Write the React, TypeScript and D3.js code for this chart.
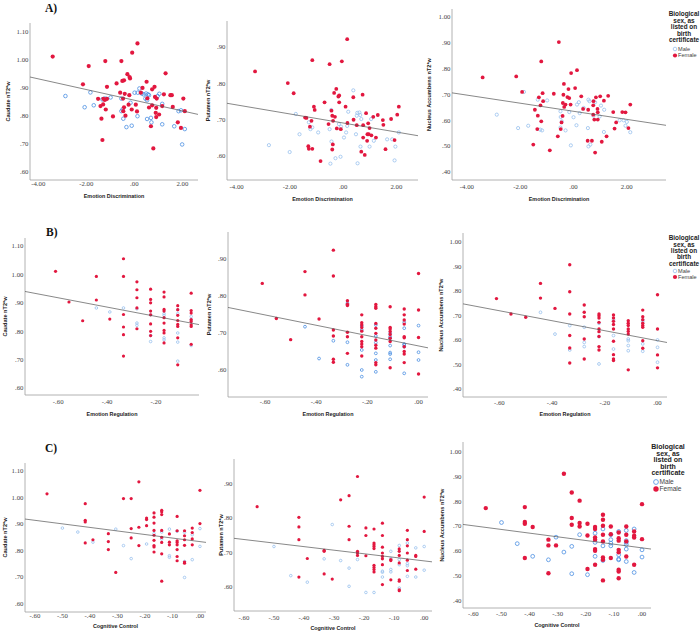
import React from 'react';
import * as d3 from 'd3';

type Pt = [number, number];

// ---------- Row A: Emotion Discrimination ----------
const A1_FEMALE: Pt[] = [[-3.4,1.012],[-1.9,.978],[-2.14,.913],[-1.21,.996],[-1.14,.904],[-.54,.996],[-.09,1.026],[.13,1.059],[-.29,.949],[-.2,.939],[-.18,.934],[-.74,.916],[-.43,.927],[-.5,.925],[.51,.922],[1.3,.952],[.84,.904],[.74,.895],[.34,.9],[-1.51,.861],[-1.41,.835],[-1.29,.861],[-1.23,.857],[-1.14,.861],[-1.19,.823],[-1.3,.841],[-1.37,.79],[-1.33,.714],[-.89,.798],[-.59,.883],[-.4,.879],[-.47,.862],[-.43,.831],[-.46,.817],[-.37,.801],[-.24,.84],[-.21,.874],[-.11,.823],[.06,.84],[.11,.816],[.27,.883],[.54,.863],[.61,.83],[.74,.838],[.86,.868],[.93,.862],[.91,.829],[.89,.811],[.91,.796],[1.03,.805],[.69,.763],[.79,.684],[1.23,.877],[1.5,.874],[1.56,.874],[1.6,.832],[1.81,.777],[1.94,.757],[2.04,.862],[2.1,.817],[1.16,.835]];
const A1_MALE: Pt[] = [[-2.87,.871],[-2.07,.831],[-1.83,.884],[-1.69,.838],[-1.33,.859],[-1.24,.862],[-1.17,.861],[-.99,.866],[-.54,.862],[-.49,.823],[-.46,.79],[-.54,.817],[-.33,.76],[-.11,.765],[-.16,.847],[.01,.883],[.14,.883],[.21,.898],[.31,.88],[.39,.877],[.49,.88],[.57,.877],[.46,.862],[.53,.856],[.61,.874],[.69,.793],[.71,.777],[.53,.789],[.13,.799],[1.04,.879],[1.16,.843],[1.16,.77],[1.66,.763],[1.84,.817],[1.94,.82],[2.1,.753],[1.99,.698],[.97,.871]];
const A2_FEMALE: Pt[] = [[-3.31,.833],[-2.08,.801],[-1.86,.773],[-1.16,.864],[-.51,.853],[-.05,.861],[.15,.922],[-.26,.785],[-.34,.774],[-.18,.764],[-.15,.767],[-.15,.748],[-.7,.748],[-1.1,.736],[-1.07,.727],[-1.43,.706],[-1.38,.705],[-1.19,.697],[-1.25,.681],[-1.31,.627],[-1.29,.62],[-1.16,.62],[-.85,.586],[-.44,.725],[-.41,.711],[-.31,.708],[-.38,.697],[-.55,.688],[.09,.736],[.16,.691],[-.24,.676],[-.09,.674],[.39,.7],[.38,.762],[.73,.769],[.86,.718],[.75,.685],[.94,.69],[.99,.677],[.91,.66],[.96,.66],[1.06,.657],[.75,.651],[.9,.642],[1.23,.651],[1.13,.708],[1.3,.713],[1.49,.699],[1.51,.686],[1.8,.702],[2.03,.714],[2.09,.736],[1.93,.644],[1.59,.619],[.68,.612],[.81,.603],[-.39,.632],[-.41,.618],[.51,.685]];
const A2_MALE: Pt[] = [[-2.79,.63],[-2.01,.611],[-1.64,.66],[-1.78,.716],[-1.29,.693],[-1.23,.674],[-1.16,.679],[-.94,.665],[-.51,.674],[-.45,.727],[-.16,.688],[-.08,.681],[.15,.683],[.19,.722],[.38,.781],[.53,.719],[.61,.72],[.64,.713],[.51,.711],[.68,.702],[.48,.66],[.11,.665],[.03,.651],[-.44,.64],[-.29,.594],[-.1,.598],[-.48,.579],[.54,.58],[.65,.626],[.99,.626],[1.15,.642],[1.05,.702],[1.65,.646],[1.84,.646],[1.96,.626],[2.09,.665],[1.93,.588]];
const A3_FEMALE: Pt[] = [[-3.41,.766],[-2.15,.77],[-1.93,.71],[-1.21,.828],[-.55,.903],[-.09,.783],[.13,.794],[-.36,.741],[-.19,.721],[.06,.725],[-.16,.686],[-.23,.69],[-.38,.699],[-.74,.703],[-1.16,.705],[-1.3,.689],[-1.14,.674],[-1.24,.658],[-1.45,.641],[-1.34,.618],[-1.21,.596],[-1.36,.566],[-1.51,.506],[-.89,.484],[-.59,.538],[-.48,.566],[-.45,.592],[-.41,.617],[-.35,.652],[-.11,.661],[-.3,.661],[-.4,.667],[.29,.693],[.36,.644],[.55,.641],[.74,.658],[.75,.674],[.84,.689],[1.0,.693],[1.14,.676],[1.3,.695],[.9,.644],[.91,.631],[.91,.603],[.74,.622],[.78,.603],[1.49,.632],[1.83,.632],[1.95,.631],[2.13,.661],[1.6,.592],[1.54,.568],[2.06,.57],[1.24,.538],[1.06,.517],[.53,.521],[.69,.521],[.81,.475]];
const A3_MALE: Pt[] = [[-2.88,.622],[-2.08,.57],[-1.7,.579],[-1.86,.71],[-1.34,.68],[-.99,.677],[-1.25,.564],[-1.18,.561],[-.49,.635],[-.48,.613],[-.44,.596],[-.49,.572],[-.3,.561],[-.16,.632],[0,.612],[.11,.581],[.2,.67],[.13,.661],[.23,.628],[.38,.648],[.56,.68],[.6,.674],[.75,.618],[.98,.615],[1.03,.657],[1.15,.641],[.54,.57],[1.14,.555],[.56,.499],[.63,.506],[-.1,.503],[1.73,.6],[1.88,.6],[2.0,.594],[1.95,.579],[2.13,.554],[.81,.67]];

// ---------- Row B: Emotion Regulation ----------
const B1_FEMALE: Pt[] = [[-.611,1.011],[-.556,.903],[-.5,.837],[-.444,.993],[-.444,.91],[-.389,.843],[-.333,1.055],[-.333,.993],[-.333,.859],[-.333,.815],[-.333,.788],[-.333,.713],[-.278,.974],[-.278,.946],[-.278,.918],[-.278,.882],[-.278,.809],[-.222,.948],[-.222,.912],[-.222,.9],[-.222,.871],[-.222,.858],[-.222,.826],[-.222,.8],[-.222,.785],[-.167,.938],[-.167,.921],[-.167,.877],[-.167,.871],[-.167,.848],[-.167,.829],[-.167,.803],[-.167,.794],[-.167,.759],[-.111,.89],[-.111,.876],[-.111,.856],[-.111,.838],[-.111,.824],[-.111,.817],[-.111,.777],[-.111,.682],[-.056,.934],[-.056,.873],[-.056,.864],[-.056,.841],[-.056,.834],[-.056,.823],[-.056,.817],[-.056,.754]];
const B1_MALE: Pt[] = [[-.444,.882],[-.389,.868],[-.333,.882],[-.278,.829],[-.278,.821],[-.278,.879],[-.222,.858],[-.222,.785],[-.222,.764],[-.167,.862],[-.167,.856],[-.167,.777],[-.167,.77],[-.111,.876],[-.111,.862],[-.111,.794],[-.111,.762],[-.111,.695],[-.056,.852],[-.056,.841],[-.056,.75]];
const B2_FEMALE: Pt[] = [[-.611,.834],[-.556,.739],[-.5,.682],[-.444,.866],[-.444,.803],[-.389,.738],[-.333,.924],[-.333,.854],[-.333,.708],[-.333,.692],[-.333,.629],[-.333,.621],[-.278,.787],[-.278,.778],[-.278,.774],[-.278,.702],[-.278,.69],[-.278,.645],[-.222,.749],[-.222,.728],[-.222,.722],[-.222,.715],[-.222,.705],[-.222,.69],[-.222,.677],[-.222,.67],[-.222,.663],[-.222,.638],[-.167,.777],[-.167,.771],[-.167,.767],[-.167,.726],[-.167,.713],[-.167,.699],[-.167,.681],[-.167,.667],[-.167,.659],[-.167,.62],[-.167,.614],[-.111,.771],[-.111,.715],[-.111,.711],[-.111,.704],[-.111,.696],[-.111,.686],[-.111,.677],[-.111,.606],[-.056,.765],[-.056,.749],[-.056,.735],[-.056,.724],[-.056,.69],[-.056,.687],[-.056,.663],[-.056,.65],[-.056,.643],[-.056,.62],[0,.861],[0,.762],[0,.688],[0,.589]];
const B2_MALE: Pt[] = [[-.444,.717],[-.389,.631],[-.333,.679],[-.278,.78],[-.278,.675],[-.278,.614],[-.222,.719],[-.222,.708],[-.222,.654],[-.222,.6],[-.222,.582],[-.167,.722],[-.167,.692],[-.167,.674],[-.167,.645],[-.167,.627],[-.167,.595],[-.111,.699],[-.111,.69],[-.111,.686],[-.111,.666],[-.111,.647],[-.111,.643],[-.111,.629],[-.056,.729],[-.056,.713],[-.056,.67],[-.056,.668],[-.056,.663],[-.056,.591],[0,.72],[0,.648],[0,.627]];
const B3_FEMALE: Pt[] = [[-.611,.769],[-.556,.706],[-.5,.693],[-.444,.831],[-.444,.771],[-.389,.729],[-.333,.907],[-.333,.797],[-.333,.706],[-.333,.618],[-.333,.567],[-.333,.506],[-.278,.743],[-.278,.713],[-.278,.695],[-.278,.604],[-.278,.522],[-.222,.706],[-.222,.699],[-.222,.69],[-.222,.672],[-.222,.645],[-.222,.634],[-.222,.614],[-.222,.573],[-.222,.559],[-.167,.702],[-.167,.69],[-.167,.676],[-.167,.663],[-.167,.645],[-.167,.595],[-.167,.54],[-.167,.522],[-.167,.516],[-.111,.679],[-.111,.668],[-.111,.659],[-.111,.645],[-.111,.635],[-.111,.624],[-.111,.478],[-.056,.722],[-.056,.695],[-.056,.683],[-.056,.668],[-.056,.659],[-.056,.652],[-.056,.597],[-.056,.566],[0,.785],[0,.645],[0,.539],[0,.486]];
const B3_MALE: Pt[] = [[-.444,.713],[-.389,.624],[-.333,.659],[-.333,.559],[-.278,.652],[-.278,.59],[-.278,.573],[-.222,.668],[-.222,.614],[-.222,.502],[-.167,.682],[-.167,.618],[-.167,.563],[-.111,.604],[-.111,.597],[-.111,.577],[-.111,.556],[-.056,.682],[-.056,.675],[-.056,.584],[-.056,.554],[0,.6],[0,.57],[0,.509]];

// ---------- Row C: Cognitive Control ----------
const C1_FEMALE: Pt[] = [[-.556,1.013],[-.417,.976],[-.417,.913],[-.417,.907],[-.417,.828],[-.389,.84],[-.333,.863],[-.333,.833],[-.333,.803],[-.306,.717],[-.278,.995],[-.25,.995],[-.25,.882],[-.25,.847],[-.222,1.058],[-.222,.887],[-.222,.818],[-.194,.922],[-.194,.916],[-.194,.893],[-.167,.941],[-.167,.925],[-.167,.903],[-.167,.875],[-.167,.857],[-.167,.838],[-.167,.818],[-.167,.813],[-.167,.794],[-.139,.951],[-.139,.945],[-.139,.935],[-.139,.875],[-.139,.849],[-.139,.83],[-.139,.787],[-.139,.684],[-.111,.862],[-.111,.831],[-.111,.821],[-.083,.928],[-.083,.874],[-.083,.836],[-.083,.83],[-.083,.821],[-.083,.803],[-.083,.777],[-.083,.761],[-.056,.874],[-.056,.855],[-.056,.84],[-.056,.819],[-.056,.756],[-.056,.752],[-.028,.884],[-.028,.867],[-.028,.843],[-.028,.821],[0,1.026],[0,.901]];
const C1_MALE: Pt[] = [[-.5,.884],[-.444,.869],[-.389,.831],[-.306,.88],[-.278,.818],[-.25,.769],[-.194,.824],[-.167,.863],[-.139,.869],[-.139,.843],[-.111,.88],[-.111,.78],[-.111,.774],[-.083,.872],[-.056,.868],[-.056,.758],[-.056,.698],[-.028,.859],[-.028,.765],[0,.882],[0,.815]];
const C2_FEMALE: Pt[] = [[-.556,.833],[-.417,.802],[-.417,.774],[-.417,.737],[-.417,.628],[-.389,.682],[-.333,.706],[-.333,.703],[-.333,.637],[-.306,.622],[-.278,.853],[-.25,.865],[-.25,.776],[-.25,.737],[-.222,.921],[-.222,.703],[-.222,.698],[-.222,.691],[-.194,.771],[-.194,.749],[-.194,.69],[-.167,.768],[-.167,.727],[-.167,.722],[-.167,.717],[-.167,.711],[-.167,.662],[-.167,.656],[-.167,.65],[-.167,.643],[-.139,.785],[-.139,.749],[-.139,.715],[-.139,.698],[-.139,.688],[-.139,.681],[-.139,.664],[-.139,.606],[-.111,.679],[-.111,.676],[-.111,.62],[-.083,.71],[-.083,.703],[-.083,.691],[-.083,.669],[-.083,.62],[-.083,.616],[-.083,.591],[-.083,.588],[-.056,.764],[-.056,.737],[-.056,.719],[-.056,.698],[-.056,.677],[-.056,.647],[-.028,.691],[-.028,.688],[-.028,.651],[0,.861],[0,.761]];
const C2_MALE: Pt[] = [[-.5,.717],[-.444,.632],[-.389,.613],[-.333,.681],[-.306,.781],[-.278,.676],[-.25,.654],[-.25,.601],[-.222,.679],[-.194,.583],[-.167,.583],[-.139,.645],[-.139,.642],[-.139,.628],[-.111,.703],[-.111,.682],[-.111,.65],[-.111,.643],[-.083,.72],[-.083,.679],[-.083,.664],[-.083,.596],[-.056,.727],[-.056,.667],[-.056,.661],[-.056,.63],[-.028,.713],[-.028,.628],[0,.717],[0,.648]];
const C3_FEMALE: Pt[] = [[-.556,.773],[-.417,.777],[-.417,.717],[-.417,.71],[-.417,.572],[-.389,.697],[-.333,.646],[-.333,.623],[-.333,.511],[-.306,.623],[-.278,.911],[-.25,.836],[-.25,.733],[-.25,.706],[-.222,.803],[-.222,.713],[-.222,.699],[-.194,.71],[-.194,.663],[-.194,.528],[-.167,.697],[-.167,.689],[-.167,.655],[-.167,.646],[-.167,.608],[-.167,.601],[-.167,.545],[-.139,.746],[-.139,.726],[-.139,.702],[-.139,.666],[-.139,.639],[-.139,.574],[-.139,.565],[-.139,.482],[-.111,.699],[-.111,.668],[-.111,.572],[-.083,.675],[-.083,.652],[-.083,.642],[-.083,.605],[-.083,.595],[-.083,.525],[-.083,.518],[-.083,.491],[-.056,.699],[-.056,.666],[-.056,.639],[-.056,.578],[-.028,.679],[-.028,.662],[-.028,.655],[-.028,.545],[0,.789],[0,.648]];
const C3_MALE: Pt[] = [[-.5,.715],[-.444,.63],[-.389,.579],[-.333,.565],[-.306,.656],[-.278,.596],[-.25,.619],[-.25,.509],[-.222,.666],[-.194,.505],[-.167,.672],[-.167,.635],[-.167,.579],[-.139,.689],[-.139,.621],[-.139,.562],[-.111,.666],[-.111,.646],[-.111,.632],[-.111,.621],[-.083,.679],[-.083,.585],[-.083,.568],[-.083,.565],[-.056,.683],[-.056,.642],[-.056,.635],[-.056,.626],[-.056,.608],[-.056,.558],[-.028,.689],[-.028,.514],[0,.605],[0,.576]];

// Fit lines: [intercept, slope]
const A1_FIT = [0.856, -0.0191];
const A2_FIT = [0.691, -0.01245];
const A3_FIT = [0.635, -0.01566];
const B1_FIT = [0.8196, -0.1636];
const B2_FIT = [0.665, -0.1397];
const B3_FIT = [0.597, -0.204];
const C1_FIT = [0.833, -0.1337];
const C2_FIT = [0.675, -0.104];
const C3_FIT = [0.613, -0.148];

// Tick values
const TICKS_ED = [-4, -2, 0, 2];
const TICKS_ER1 = [-0.6, -0.4, -0.2];
const TICKS_ER = [-0.6, -0.4, -0.2, 0];
const TICKS_CC = [-0.6, -0.5, -0.4, -0.3, -0.2, -0.1, 0];
const TICKS_CAUDATE = [1.1, 1.0, 0.9, 0.8, 0.7, 0.6];
const TICKS_PUTAMEN = [0.9, 0.8, 0.7, 0.6];
const TICKS_NACC = [1.0, 0.9, 0.8, 0.7, 0.6, 0.5, 0.4];

const Y_TITLES = ['Caudate nT2*w', 'Putamen nT2*w', 'Nucleus Accumbens nT2*w'];
const X_TITLES = ['Emotion Discrimination', 'Emotion Regulation', 'Cognitive Control'];
const ROW_LABELS = ['A)', 'B)', 'C)'];
const LEGEND_TITLE = ['Biological', 'sex, as', 'listed on', 'birth', 'certificate'];
const LEGEND_ITEMS = ['Male', 'Female'];

const RED = '#e2173f';
const BLUE_DARK = '#4b8fe2';
const BLUE_LIGHT = '#98c0ee';

interface PanelCfg {
  male: Pt[]; female: Pt[]; fit: number[];
  l: number; r: number; t: number; b: number;
  xDom: [number, number]; yDom: [number, number];
  xTicks: number[]; yTicks: number[];
  yTitle: string; xTitle: string;
  yTitleX: number; xTickY: number; xTitleY: number;
  rad: number; blue: string;
}

const PANELS: PanelCfg[] = [
  { male: A1_MALE, female: A1_FEMALE, fit: A1_FIT, l: 30, r: 198, t: 23, b: 180, xDom: [-4.345, 2.65], yDom: [0.571, 1.132], xTicks: TICKS_ED, yTicks: TICKS_CAUDATE, yTitle: Y_TITLES[0], xTitle: X_TITLES[0], yTitleX: 8, xTickY: 185.5, xTitleY: 197.5, rad: 2.1, blue: BLUE_DARK },
  { male: A2_MALE, female: A2_FEMALE, fit: A2_FIT, l: 227, r: 418, t: 21, b: 180, xDom: [-4.364, 2.81], yDom: [0.534, 0.972], xTicks: TICKS_ED, yTicks: TICKS_PUTAMEN, yTitle: Y_TITLES[1], xTitle: X_TITLES[0], yTitleX: 208, xTickY: 189, xTitleY: 201, rad: 1.9, blue: BLUE_LIGHT },
  { male: A3_MALE, female: A3_FEMALE, fit: A3_FIT, l: 452, r: 666, t: 9, b: 180, xDom: [-4.56, 3.47], yDom: [0.369, 1.031], xTicks: TICKS_ED, yTicks: TICKS_NACC, yTitle: Y_TITLES[2], xTitle: X_TITLES[0], yTitleX: 429, xTickY: 189, xTitleY: 201, rad: 1.9, blue: BLUE_LIGHT },
  { male: B1_MALE, female: B1_FEMALE, fit: B1_FIT, l: 25, r: 199, t: 238, b: 395, xDom: [-0.736, -0.024], yDom: [0.576, 1.128], xTicks: TICKS_ER1, yTicks: TICKS_CAUDATE, yTitle: Y_TITLES[0], xTitle: X_TITLES[1], yTitleX: 5, xTickY: 404, xTitleY: 415.5, rad: 1.6, blue: BLUE_LIGHT },
  { male: B2_MALE, female: B2_FEMALE, fit: B2_FIT, l: 228, r: 428, t: 232, b: 397, xDom: [-0.745, 0.037], yDom: [0.527, 0.973], xTicks: TICKS_ER, yTicks: TICKS_PUTAMEN, yTitle: Y_TITLES[1], xTitle: X_TITLES[1], yTitleX: 209, xTickY: 404, xTitleY: 416, rad: 1.7, blue: BLUE_DARK },
  { male: B3_MALE, female: B3_FEMALE, fit: B3_FIT, l: 463, r: 667, t: 233, b: 397, xDom: [-0.738, 0.036], yDom: [0.367, 1.037], xTicks: TICKS_ER, yTicks: TICKS_NACC, yTitle: Y_TITLES[2], xTitle: X_TITLES[1], yTitleX: 441, xTickY: 404.5, xTitleY: 416, rad: 1.7, blue: BLUE_LIGHT },
  { male: C1_MALE, female: C1_FEMALE, fit: C1_FIT, l: 25, r: 206, t: 463, b: 612, xDom: [-0.636, 0.022], yDom: [0.568, 1.129], xTicks: TICKS_CC, yTicks: TICKS_CAUDATE, yTitle: Y_TITLES[0], xTitle: X_TITLES[2], yTitleX: 5, xTickY: 618, xTitleY: 628, rad: 1.6, blue: BLUE_LIGHT },
  { male: C2_MALE, female: C2_FEMALE, fit: C2_FIT, l: 234, r: 432, t: 459, b: 611, xDom: [-0.633, 0.026], yDom: [0.529, 0.972], xTicks: TICKS_CC, yTicks: TICKS_PUTAMEN, yTitle: Y_TITLES[1], xTitle: X_TITLES[2], yTitleX: 221, xTickY: 619.5, xTitleY: 629.5, rad: 1.6, blue: BLUE_LIGHT },
  { male: C3_MALE, female: C3_FEMALE, fit: C3_FIT, l: 463, r: 651, t: 442, b: 608, xDom: [-0.637, 0.032], yDom: [0.371, 1.039], xTicks: TICKS_CC, yTicks: TICKS_NACC, yTitle: Y_TITLES[2], xTitle: X_TITLES[2], yTitleX: 442, xTickY: 615.5, xTitleY: 627, rad: 2.2, blue: BLUE_DARK },
];

const ROW_LABEL_POS = [[45, 11.5], [46, 235.5], [45, 451.5]];

interface LegendCfg { cx: number; y0: number; lh: number; fs: number; mx: number; tx: number; my: number[]; r: number; ifs: number; }
const LEGENDS: LegendCfg[] = [
  { cx: 684, y0: 16.3, lh: 6.4, fs: 6.4, mx: 675, tx: 678, my: [49, 55.5], r: 2.1, ifs: 5.6 },
  { cx: 684, y0: 240.3, lh: 6.3, fs: 6.4, mx: 675, tx: 678, my: [271, 277], r: 2.1, ifs: 5.6 },
  { cx: 668, y0: 449.3, lh: 6.5, fs: 7.0, mx: 656, tx: 659.5, my: [482, 489], r: 2.7, ifs: 6.6 },
];

const fmt = (v: number) => {
  const s = v.toFixed(2);
  return s.replace(/^(-?)0\./, '$1.');
};

const SERIF = '"Liberation Serif", "Times New Roman", serif';
const SANS = '"Liberation Sans", Arial, sans-serif';

function Panel({ p }: { p: PanelCfg }) {
  const x = d3.scaleLinear().domain(p.xDom).range([p.l, p.r]);
  const y = d3.scaleLinear().domain(p.yDom).range([p.b, p.t]);
  const line = d3.line<number>().x((v) => x(v)).y((v) => y(p.fit[0] + p.fit[1] * v));
  const cy = (p.t + p.b) / 2;
  const cx = (p.l + p.r) / 2;
  return (
    <g>
      <line x1={p.l} x2={p.l} y1={p.t} y2={p.b} stroke="#a0a0a0" strokeWidth={0.8} />
      <line x1={p.l} x2={p.r} y1={p.b} y2={p.b} stroke="#a0a0a0" strokeWidth={0.8} />
      {p.yTicks.map((t) => (
        <text key={'y' + t} x={p.l - 1.5} y={y(t)} dy="0.33em" textAnchor="end" fontFamily={SERIF} fontSize={6.8} fill="#444">{fmt(t)}</text>
      ))}
      {p.xTicks.map((t) => (
        <text key={'x' + t} x={x(t)} y={p.xTickY} textAnchor="middle" fontFamily={SERIF} fontSize={6.8} fill="#444">{fmt(t)}</text>
      ))}
      <text x={cx} y={p.xTitleY} textAnchor="middle" fontFamily={SANS} fontWeight="bold" fontSize={5.4} fill="#222">{p.xTitle}</text>
      <text transform={`translate(${p.yTitleX},${cy}) rotate(-90)`} textAnchor="middle" dy="0.35em" fontFamily={SANS} fontWeight="bold" fontSize={5.6} fill="#222">{p.yTitle}</text>
      {p.male.map((d, i) => (
        <circle key={'m' + i} cx={x(d[0])} cy={y(d[1])} r={p.rad - 0.3} fill="none" stroke={p.blue} strokeWidth={0.8} />
      ))}
      {p.female.map((d, i) => (
        <circle key={'f' + i} cx={x(d[0])} cy={y(d[1])} r={p.rad} fill={RED} />
      ))}
      <path d={line(p.xDom) || ''} fill="none" stroke="#555" strokeWidth={0.7} />
    </g>
  );
}

function Legend({ g, blue }: { g: LegendCfg; blue: string }) {
  return (
    <g>
      {LEGEND_TITLE.map((s, i) => (
        <text key={s} x={g.cx} y={g.y0 + i * g.lh} textAnchor="middle" fontFamily={SANS} fontWeight="bold" fontSize={g.fs} fill="#222">{s}</text>
      ))}
      {LEGEND_ITEMS.map((s, i) => (
        <g key={s}>
          {i === 0 ? (
            <circle cx={g.mx} cy={g.my[i]} r={g.r - 0.3} fill="none" stroke={blue} strokeWidth={0.8} />
          ) : (
            <circle cx={g.mx} cy={g.my[i]} r={g.r} fill={RED} />
          )}
          <text x={g.tx} y={g.my[i]} dy="0.35em" fontFamily={SANS} fontSize={g.ifs} fill="#444">{s}</text>
        </g>
      ))}
    </g>
  );
}

export default function App() {
  return (
    <svg width={700} height={631} style={{ position: 'absolute', left: 0, top: 0, background: '#fff' }}>
      <rect width={700} height={631} fill="#fff" />
      {PANELS.map((p, i) => <Panel key={i} p={p} />)}
      {ROW_LABELS.map((s, i) => (
        <text key={s} x={ROW_LABEL_POS[i][0]} y={ROW_LABEL_POS[i][1]} fontFamily={SERIF} fontWeight="bold" fontSize={11.5} fill="#111">{s}</text>
      ))}
      {LEGENDS.map((g, i) => <Legend key={i} g={g} blue={i === 2 ? BLUE_DARK : BLUE_LIGHT} />)}
    </svg>
  );
}
